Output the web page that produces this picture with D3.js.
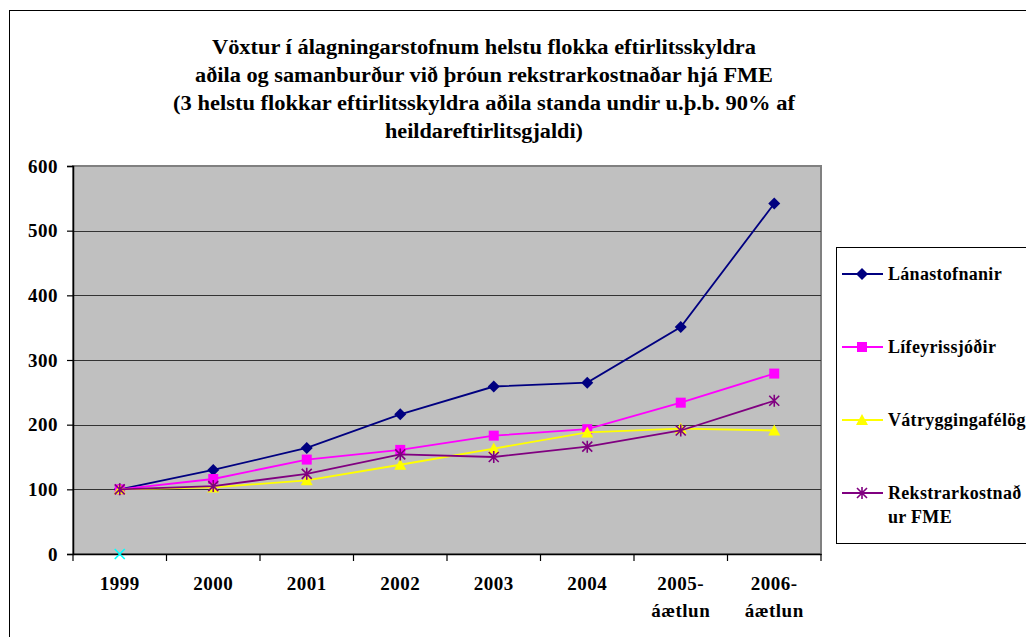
<!DOCTYPE html>
<html>
<head>
<meta charset="utf-8">
<script src="https://cdn.jsdelivr.net/npm/d3@7"></script>
<style>
  html, body { margin: 0; padding: 0; background: #ffffff; }
  svg { display: block; }
  text { font-family: "Liberation Serif", "Times New Roman", serif; font-weight: bold; fill: #000; }
</style>
</head>
<body>
<svg id="chart" width="1026" height="637"></svg>
<script>
const titleLines = [
  "Vöxtur í álagningarstofnum helstu flokka eftirlitsskyldra",
  "aðila og samanburður við þróun rekstrarkostnaðar hjá FME",
  "(3 helstu flokkar eftirlitsskyldra aðila standa undir u.þ.b. 90% af",
  "heildareftirlitsgjaldi)"
];
const categories = ["1999", "2000", "2001", "2002", "2003", "2004", "2005-\náætlun", "2006-\náætlun"];
const yTicks = [0, 100, 200, 300, 400, 500, 600];

const lanastofnanir    = [100, 130, 164, 216, 259, 265, 351, 542];
const lifeyrissjodir   = [100, 116, 146, 161, 183, 193, 234, 279];
const vatryggingafelog = [100, 103, 114, 138, 163, 188, 194, 191];
const rekstrarkostn    = [100, 105, 124, 154, 150, 166, 191, 237];
const extraPoint       = [0, null, null, null, null, null, null, null];

const seriesNames = ["Lánastofnanir", "Lífeyrissjóðir", "Vátryggingafélög", "Rekstrarkostnaður FME"];

const series = [
  { name: seriesNames[0], values: lanastofnanir,    color: "#000080", marker: "diamond",  legend: ["Lánastofnanir"] },
  { name: seriesNames[1], values: lifeyrissjodir,   color: "#FF00FF", marker: "square",   legend: ["Lífeyrissjóðir"] },
  { name: seriesNames[2], values: vatryggingafelog, color: "#FFFF00", marker: "triangle", legend: ["Vátryggingafélög"] },
  { name: seriesNames[3], values: rekstrarkostn,    color: "#800080", marker: "star",     legend: ["Rekstrarkostnað", "ur FME"] }
];

const svg = d3.select("#chart");

// outer chart border
svg.append("rect").attr("x", 9.5).attr("y", 10.5).attr("width", 1100).attr("height", 700)
  .attr("fill", "#fff").attr("stroke", "#000").attr("stroke-width", 1);

// title
const titleWidths = [544, 578, 622, 198];
const titleY = [54, 82, 110, 138];
titleLines.forEach((t, i) => {
  svg.append("text").attr("x", 484).attr("y", titleY[i]).attr("text-anchor", "middle")
    .attr("font-size", 20)
    .attr("textLength", titleWidths[i]).attr("lengthAdjust", "spacingAndGlyphs")
    .text(t);
});

const plot = { left: 73, top: 166, right: 821, bottom: 554 };
const x = d3.scaleBand().domain(categories).range([plot.left, plot.right]).padding(0);
const y = d3.scaleLinear().domain([0, 600]).range([plot.bottom, plot.top]);

// plot area
svg.append("rect").attr("x", plot.left).attr("y", plot.top)
  .attr("width", plot.right - plot.left).attr("height", plot.bottom - plot.top)
  .attr("fill", "#C0C0C0").attr("stroke", "#808080").attr("stroke-width", 2);

// gridlines
svg.append("g").selectAll("line").data(yTicks.filter(d => d > 0 && d < 600)).join("line")
  .attr("x1", plot.left).attr("x2", plot.right)
  .attr("y1", d => Math.round(y(d)) + 0.5).attr("y2", d => Math.round(y(d)) + 0.5)
  .attr("stroke", "#333").attr("stroke-width", 1.2);

// y axis
const yAxis = svg.append("g").attr("transform", `translate(${plot.left},0)`)
  .call(d3.axisLeft(y).tickValues(yTicks).tickSize(6).tickPadding(9));
yAxis.select(".domain").attr("stroke", "#000").attr("stroke-width", 1.5);
yAxis.selectAll(".tick line").attr("stroke", "#000").attr("stroke-width", 1.2);
yAxis.selectAll(".tick text").attr("font-size", 19)
  .attr("font-family", "'Liberation Serif', 'Times New Roman', serif").attr("font-weight", "bold")
  .attr("fill", "#000").attr("letter-spacing", 0.5);

// x axis
const xAxis = svg.append("g").attr("transform", `translate(0,${plot.bottom})`)
  .call(d3.axisBottom(x).tickSize(0).tickFormat(""));
xAxis.select(".domain").attr("stroke", "#000").attr("stroke-width", 1.5);
const boundaries = categories.map(c => x(c)).concat([plot.right]);
svg.append("g").selectAll("line").data(boundaries).join("line")
  .attr("x1", d => d).attr("x2", d => d)
  .attr("y1", plot.bottom).attr("y2", plot.bottom + 7)
  .attr("stroke", "#000").attr("stroke-width", 1.2);
const xl = svg.append("g");
categories.forEach(c => {
  const parts = c.split("\n");
  const t = xl.append("text").attr("text-anchor", "middle").attr("font-size", 19);
  parts.forEach((p, i) => {
    t.append("tspan").attr("x", x(c) + x.bandwidth() / 2).attr("y", 590 + i * 27)
      .attr("letter-spacing", 0.5).text(p);
  });
});

function drawMarker(g, type, cx, cy, color) {
  if (type === "diamond") {
    g.append("path").attr("d", `M${cx},${cy - 6}L${cx + 6},${cy}L${cx},${cy + 6}L${cx - 6},${cy}Z`).attr("fill", color);
  } else if (type === "square") {
    g.append("rect").attr("x", cx - 5).attr("y", cy - 5).attr("width", 10).attr("height", 10).attr("fill", color);
  } else if (type === "triangle") {
    g.append("path").attr("d", `M${cx},${cy - 6}L${cx + 6},${cy + 5}L${cx - 6},${cy + 5}Z`).attr("fill", color);
  } else if (type === "star") {
    g.append("path").attr("d", `M${cx - 5},${cy - 5}L${cx + 5},${cy + 5}M${cx - 5},${cy + 5}L${cx + 5},${cy - 5}M${cx},${cy - 6}L${cx},${cy + 6}`)
      .attr("stroke", color).attr("stroke-width", 1.6).attr("fill", "none");
  } else if (type === "x") {
    g.append("path").attr("d", `M${cx - 5},${cy - 5}L${cx + 5},${cy + 5}M${cx - 5},${cy + 5}L${cx + 5},${cy - 5}`)
      .attr("stroke", color).attr("stroke-width", 1.6).attr("fill", "none");
  }
}

const cx = i => x(categories[i]) + x.bandwidth() / 2;
const line = d3.line().x((d, i) => cx(i)).y(d => y(d));

series.forEach(s => {
  svg.append("path").datum(s.values).attr("d", line)
    .attr("fill", "none").attr("stroke", s.color).attr("stroke-width", 1.8);
  const g = svg.append("g");
  s.values.forEach((v, i) => drawMarker(g, s.marker, cx(i), y(v), s.color));
});

const gx = svg.append("g");
extraPoint.forEach((v, i) => { if (v !== null) drawMarker(gx, "x", cx(i), y(v), "#00FFFF"); });

// legend
const legend = { left: 836, top: 247, bottom: 543 };
svg.append("rect").attr("x", legend.left + 0.5).attr("y", legend.top + 0.5)
  .attr("width", 300).attr("height", legend.bottom - legend.top)
  .attr("fill", "#fff").attr("stroke", "#000").attr("stroke-width", 1);
const legendY = [274, 347, 420, 493];
series.forEach((s, i) => {
  const ly = legendY[i];
  svg.append("line").attr("x1", 842).attr("x2", 883).attr("y1", ly).attr("y2", ly)
    .attr("stroke", s.color).attr("stroke-width", 1.8);
  drawMarker(svg.append("g"), s.marker, 862, ly, s.color);
  const t = svg.append("text").attr("font-size", 18);
  s.legend.forEach((p, j) => {
    t.append("tspan").attr("x", 888).attr("y", ly + 6 + j * 24).attr("letter-spacing", 0.3).text(p);
  });
});
</script>
</body>
</html>
